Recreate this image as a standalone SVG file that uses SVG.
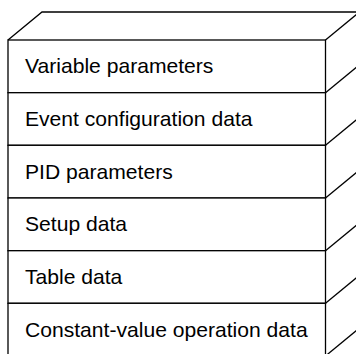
<svg xmlns="http://www.w3.org/2000/svg" width="356" height="354" viewBox="0 0 356 354">
<style>
.ln{fill:none;stroke:#000;stroke-width:1.3}
.row{fill:#fff;stroke:#000;stroke-width:1.3}
.t{font-family:"Liberation Sans",Arial,sans-serif;font-size:21.1px;fill:#000}
</style>
<g id="top">
<polyline class="ln" points="8,40 42,12 360,12"/>
<line class="ln" x1="325.5" y1="40" x2="359.5" y2="12"/>
</g>
<g id="row1"><rect class="row" x="8" y="40" width="317.5" height="52.7"/><text class="t" x="25" y="73.3">Variable parameters</text><line class="ln" x1="325.5" y1="92.7" x2="359.5" y2="64.7"/></g>
<g id="row2"><rect class="row" x="8" y="92.7" width="317.5" height="52.6"/><text class="t" x="25" y="126">Event configuration data</text><line class="ln" x1="325.5" y1="145.3" x2="359.5" y2="117.3"/></g>
<g id="row3"><rect class="row" x="8" y="145.3" width="317.5" height="52.7"/><text class="t" x="25" y="178.7">PID parameters</text><line class="ln" x1="325.5" y1="198" x2="359.5" y2="170"/></g>
<g id="row4"><rect class="row" x="8" y="198" width="317.5" height="52.7"/><text class="t" x="25" y="231.3">Setup data</text><line class="ln" x1="325.5" y1="250.7" x2="359.5" y2="222.7"/></g>
<g id="row5"><rect class="row" x="8" y="250.7" width="317.5" height="52.6"/><text class="t" x="25" y="284">Table data</text><line class="ln" x1="325.5" y1="303.3" x2="359.5" y2="275.3"/></g>
<g id="row6"><rect class="row" x="8" y="303.3" width="317.5" height="52.7"/><text class="t" x="25" y="336.7">Constant-value operation data</text><line class="ln" x1="325.5" y1="356" x2="359.5" y2="328"/></g>
</svg>
